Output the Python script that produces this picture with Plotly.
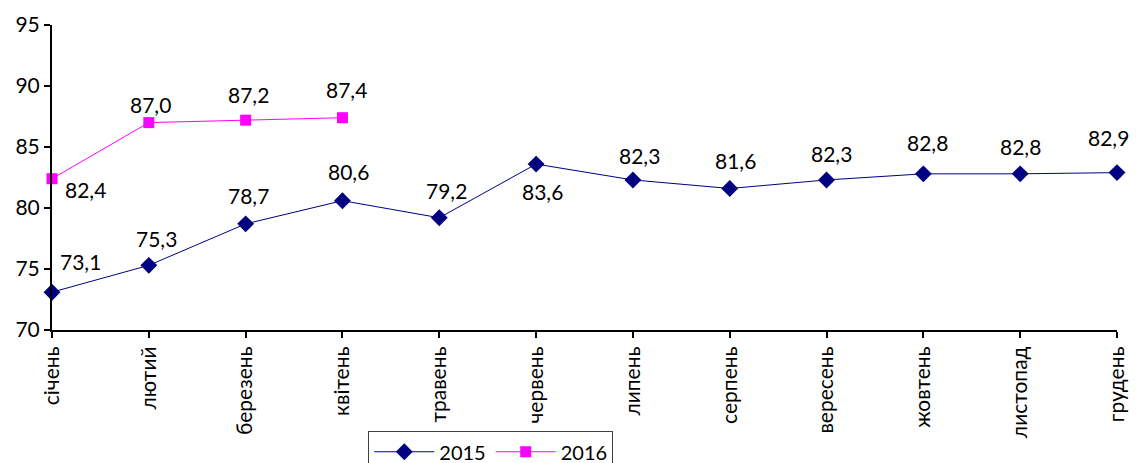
import plotly.graph_objects as go

months = ["січень", "лютий", "березень", "квітень", "травень", "червень",
          "липень", "серпень", "вересень", "жовтень", "листопад", "грудень"]
values_2015 = [73.1, 75.3, 78.7, 80.6, 79.2, 83.6, 82.3, 81.6, 82.3, 82.8, 82.8, 82.9]
values_2016 = [82.4, 87.0, 87.2, 87.4]
y_ticks = [70, 75, 80, 85, 90, 95]

# label offsets in pixels (dx, dy up) - styling only
off_2015 = [(28, 31), (8, 27), (3, 28), (6, 29), (7, 27), (6, -27),
            (7, 24), (6, 28), (5, 26), (4, 31), (0, 27), (-9, 35)]
off_2016 = [(33, -11), (2, 18), (3, 26), (4, 28)]

FONT = "Lato"
x15 = list(range(len(values_2015)))
x16 = list(range(len(values_2016)))

fig = go.Figure()
fig.add_trace(go.Scatter(
    x=x15, y=values_2015, name="2015", mode="lines+markers",
    line=dict(color="#000080", width=1),
    marker=dict(symbol="diamond", size=13, color="#000080"),
    cliponaxis=False,
))
fig.add_trace(go.Scatter(
    x=x16, y=values_2016, name="2016", mode="lines+markers",
    line=dict(color="#FF00FF", width=1),
    marker=dict(symbol="square", size=11, color="#FF00FF"),
    cliponaxis=False,
))

def fmt(v):
    return f"{v:.1f}".replace(".", ",")

ann = []
for xs, vals, offs in ((x15, values_2015, off_2015), (x16, values_2016, off_2016)):
    for x, v, (dx, dy) in zip(xs, vals, offs):
        ann.append(dict(x=x, y=v, text=fmt(v), showarrow=False,
                        xanchor="center", yanchor="middle",
                        xshift=dx, yshift=dy,
                        font=dict(family=FONT, size=21, color="black")))

# page body has an 8px margin: figure sits at (8, 8)
fig.update_layout(
    width=1129, height=455,
    paper_bgcolor="white", plot_bgcolor="white",
    margin=dict(l=44, r=20, t=17, b=133, autoexpand=False),
    font=dict(family=FONT, size=21, color="black"),
    annotations=ann,
    showlegend=True,
    legend=dict(orientation="h", x=0.297, y=-0.332, xanchor="left", yanchor="top",
                bordercolor="#404040", borderwidth=1, bgcolor="white",
                font=dict(family=FONT, size=20), itemwidth=60,
                traceorder="normal"),
    xaxis=dict(range=[0, 11], tickmode="array", tickvals=list(range(12)),
               ticktext=months, tickangle=-90, showgrid=False, zeroline=False,
               showline=True, linecolor="black", linewidth=2,
               ticks="outside", ticklen=6, tickwidth=2, tickcolor="black",
               tickfont=dict(family=FONT, size=21)),
    yaxis=dict(range=[70, 95], tickmode="array", tickvals=y_ticks,
               showgrid=False, zeroline=False,
               showline=True, linecolor="black", linewidth=2,
               ticks="outside", ticklen=6, tickwidth=2, tickcolor="black",
               tickfont=dict(family=FONT, size=21)),
)

fig.write_html("out.html")
